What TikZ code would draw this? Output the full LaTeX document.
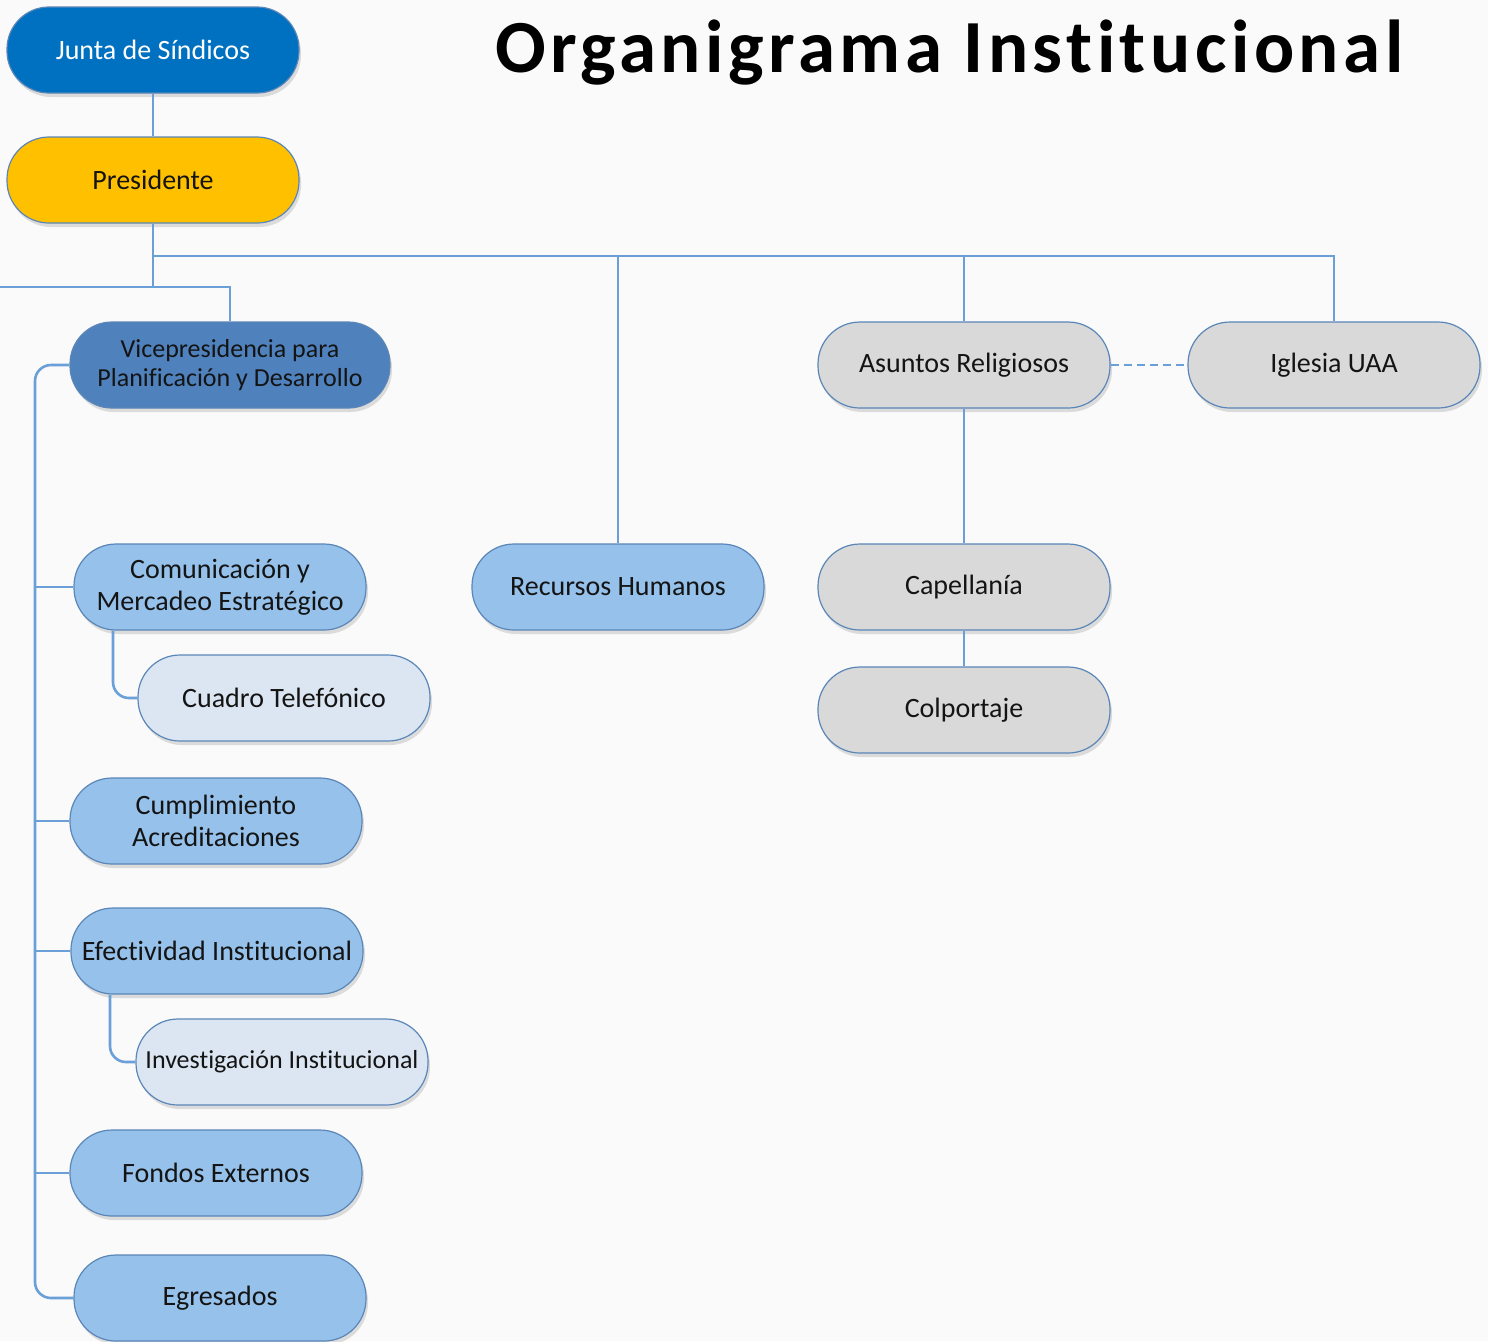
\documentclass[tikz,border=0pt]{standalone}
\usepackage{fontspec}
\setmainfont{Carlito}[Ligatures=NoCommon]
\newfontfamily\titlefont[LetterSpace=6, Ligatures=NoCommon]{Carlito}
\usetikzlibrary{shadows}

\definecolor{juntablue}{HTML}{0070C0}
\definecolor{presgold}{HTML}{FFC000}
\definecolor{vpblue}{HTML}{4F81BD}
\definecolor{deptblue}{HTML}{95C1EA}
\definecolor{unitblue}{HTML}{DCE6F2}
\definecolor{relgray}{HTML}{D9D9D9}
\definecolor{boxline}{HTML}{5A86B8}
\definecolor{connblue}{HTML}{6A9FD8}
\definecolor{textdark}{HTML}{141414}
\definecolor{pagebg}{HTML}{FAFAFA}

\begin{document}
\begin{tikzpicture}[x=0.5pt, y=-0.5pt,
    box/.style={draw=boxline, line width=0.6pt, rounded corners=21pt,
        minimum width=146pt, minimum height=43pt, inner sep=2pt,
        align=center, text=textdark, font=\fontsize{14}{16}\selectfont,
        drop shadow={opacity=0.25, shadow xshift=1pt, shadow yshift=-2pt}},
    conn/.style={draw=connblue, line width=1.3pt}]

    % the page
    \fill[pagebg] (0,0) rectangle (1488,1341);
    \useasboundingbox (0,0) rectangle (1488,1341);

    % The title
    \node[anchor=base west, font=\titlefont\bfseries\fontsize{37.5}{40}\selectfont]
        (title) at (488,72) {Organigrama Institucional};

    % the top of the chart
    \node[box, fill=juntablue, text=white] (junta) at (153,50) {Junta de Síndicos};
    \node[box, fill=presgold] (pres) at (153,180) {Presidente};

    % the vice presidency
    \node[box, fill=vpblue, minimum width=160pt, font=\fontsize{13}{14.5}\selectfont]
        (vp) at (230,365) {Vicepresidencia para\\Planificación y Desarrollo};

    % the units under the vice presidency
    \node[box, fill=deptblue] (com) at (220,587) {Comunicación y\\Mercadeo Estratégico};
    \node[box, fill=unitblue] (cuadro) at (284,698) {Cuadro Telefónico};
    \node[box, fill=deptblue] (cum) at (216,821) {Cumplimiento\\Acreditaciones};
    \node[box, fill=deptblue] (efe) at (217,951) {Efectividad Institucional};
    \node[box, fill=unitblue, font=\fontsize{13}{15}\selectfont]
        (inv) at (282,1062) {Investigación Institucional};
    \node[box, fill=deptblue] (fon) at (216,1173) {Fondos Externos};
    \node[box, fill=deptblue] (egr) at (220,1298) {Egresados};

    % human resources
    \node[box, fill=deptblue] (rrhh) at (618,587) {Recursos Humanos};

    % the religious branch
    \node[box, fill=relgray] (asun) at (964,365) {Asuntos Religiosos};
    \node[box, fill=relgray] (igle) at (1334,365) {Iglesia UAA};
    \node[box, fill=relgray] (cape) at (964,587) {Capellanía};
    \node[box, fill=relgray] (colp) at (964,710) {Colportaje};

    % points where the lines bend
    \coordinate (left) at (0,287);
    \coordinate (pdrop) at (153,287);
    \coordinate (bus) at (153,256);
    \coordinate (spine) at (35,365);

    % Junta -> Presidente
    \draw[conn] (junta) -- (pres);
    % Presidente down to the lower bar
    \draw[conn] (pres.south) -- (pdrop);
    % The lower bar, off the left edge, to the vice presidency
    \draw[conn] (left) -| (vp.north);
    % The upper bar to the right
    \draw[conn] (bus) -| (igle.north);
    \draw[conn] (bus -| rrhh.north) -- (rrhh.north);
    \draw[conn] (bus -| asun.north) -- (asun.north);

    % The spine on the left of the vice presidency
    \draw[conn, rounded corners=8pt] (vp.west) -- (spine) -- (spine |- egr.west) -- (egr.west);
    \foreach \n in {com, cum, efe, fon}
        \draw[conn] (\n.west) -- (\n.west -| spine);

    % the two sub units
    \draw[conn, rounded corners=8pt] (com.south -| 113,0) |- (cuadro.west);
    \draw[conn, rounded corners=8pt] (efe.south -| 110,0) |- (inv.west);

    % Religious affairs
    \draw[conn, dashed, dash pattern=on 4pt off 2.5pt] (asun.east) -- (igle.west);
    \draw[conn] (asun) -- (cape);
    \draw[conn] (cape) -- (colp);
\end{tikzpicture}
\end{document}
